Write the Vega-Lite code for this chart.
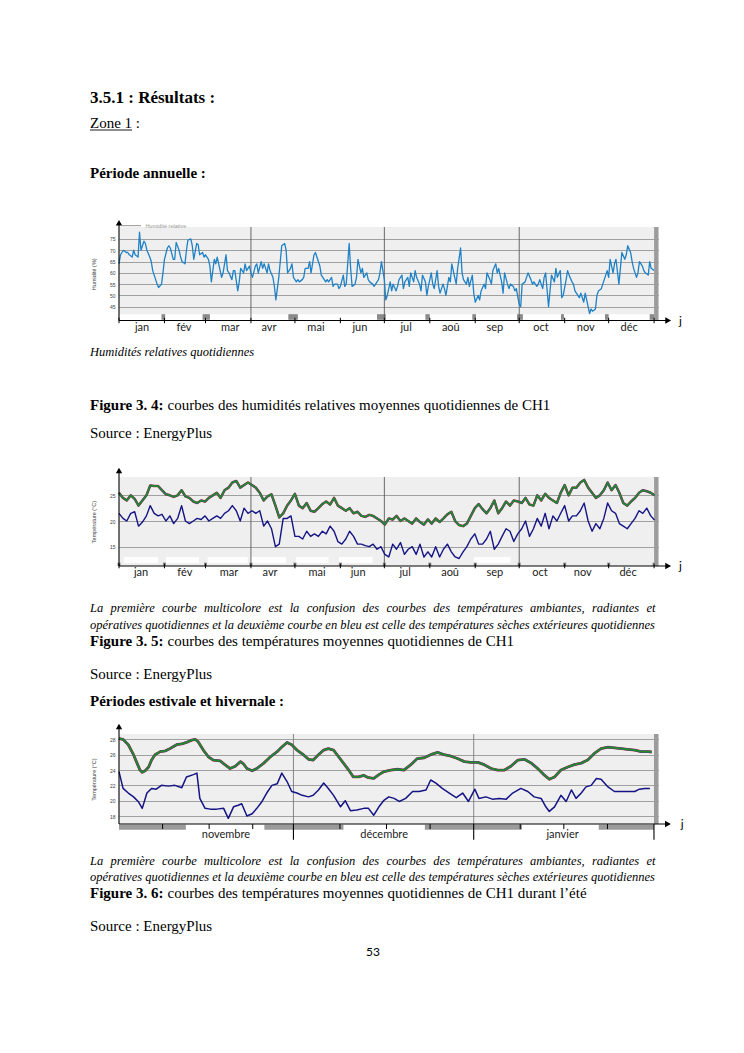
{
"$schema":"https://vega.github.io/schema/vega-lite/v6.json",
"background":"white",
"padding":{"left":89,"top":86,"right":5,"bottom":5},
"bounds":"flush",
"spacing":0,
"config":{"view":{"stroke":null},"text":{"font":"Liberation Serif","fontSize":15,"align":"left","baseline":"middle","color":"#000000"},"line":{"strokeJoin":"round"}},
"datasets":{
"hr":[{"d":0,"h":64},{"d":1,"h":68},{"d":2,"h":69},{"d":3,"h":70},{"d":5,"h":69},{"d":6,"h":69},{"d":7,"h":68},{"d":9,"h":67},{"d":10,"h":70},{"d":11,"h":68},{"d":13,"h":67},{"d":14,"h":78},{"d":15,"h":70},{"d":17,"h":74},{"d":18,"h":73},{"d":19,"h":70},{"d":21,"h":67},{"d":22,"h":65},{"d":23,"h":61},{"d":25,"h":57},{"d":26,"h":55},{"d":27,"h":53.5},{"d":29,"h":55},{"d":30,"h":60},{"d":31,"h":66},{"d":33,"h":71},{"d":34,"h":72},{"d":35,"h":71},{"d":37,"h":66},{"d":38,"h":66},{"d":39,"h":73.5},{"d":41,"h":70},{"d":42,"h":67},{"d":43,"h":65},{"d":45,"h":64},{"d":46,"h":70},{"d":47,"h":74.5},{"d":49,"h":75},{"d":50,"h":72},{"d":51,"h":66},{"d":53,"h":73},{"d":54,"h":72.5},{"d":55,"h":68},{"d":57,"h":69},{"d":58,"h":67},{"d":59,"h":68},{"d":61,"h":66},{"d":62,"h":63},{"d":63,"h":56},{"d":65,"h":66},{"d":66,"h":64},{"d":67,"h":67},{"d":69,"h":61},{"d":70,"h":58},{"d":71,"h":60},{"d":73,"h":68},{"d":74,"h":61},{"d":75,"h":60},{"d":77,"h":57},{"d":78,"h":61},{"d":79,"h":61},{"d":81,"h":52},{"d":82,"h":56},{"d":83,"h":62},{"d":85,"h":60},{"d":86,"h":64},{"d":87,"h":61},{"d":89,"h":63},{"d":90,"h":60},{"d":91,"h":58},{"d":93,"h":63},{"d":94,"h":64},{"d":95,"h":60},{"d":97,"h":65},{"d":98,"h":62},{"d":99,"h":64},{"d":101,"h":60},{"d":102,"h":64},{"d":103,"h":61},{"d":105,"h":58},{"d":106,"h":54},{"d":107,"h":48},{"d":109,"h":58},{"d":110,"h":65},{"d":111,"h":72},{"d":113,"h":73},{"d":114,"h":70},{"d":115,"h":60},{"d":117,"h":62},{"d":118,"h":64},{"d":119,"h":58},{"d":121,"h":56},{"d":122,"h":57},{"d":123,"h":56},{"d":125,"h":57},{"d":126,"h":58},{"d":127,"h":62},{"d":129,"h":62},{"d":130,"h":65},{"d":131,"h":60},{"d":133,"h":68},{"d":134,"h":69},{"d":135,"h":67},{"d":137,"h":63},{"d":138,"h":59},{"d":139,"h":58},{"d":141,"h":56},{"d":142,"h":57},{"d":143,"h":56},{"d":145,"h":58},{"d":146,"h":54},{"d":147,"h":55},{"d":149,"h":55},{"d":150,"h":53},{"d":151,"h":54},{"d":153,"h":59},{"d":154,"h":54},{"d":155,"h":55},{"d":157,"h":73},{"d":158,"h":62},{"d":159,"h":54},{"d":161,"h":55},{"d":162,"h":58},{"d":163,"h":66},{"d":165,"h":60},{"d":166,"h":62},{"d":167,"h":58},{"d":169,"h":60},{"d":170,"h":57},{"d":171,"h":56},{"d":173,"h":55},{"d":174,"h":54},{"d":175,"h":55},{"d":177,"h":57},{"d":178,"h":60},{"d":179,"h":65},{"d":181,"h":57},{"d":182,"h":48},{"d":183,"h":50},{"d":185,"h":56},{"d":186,"h":52},{"d":187,"h":55},{"d":189,"h":52},{"d":190,"h":54},{"d":191,"h":57},{"d":193,"h":59},{"d":194,"h":53},{"d":195,"h":56},{"d":197,"h":58},{"d":198,"h":54},{"d":199,"h":60},{"d":201,"h":56},{"d":202,"h":61},{"d":203,"h":58},{"d":205,"h":55},{"d":206,"h":52},{"d":207,"h":59},{"d":209,"h":56},{"d":210,"h":50},{"d":211,"h":54},{"d":213,"h":60},{"d":214,"h":55},{"d":215,"h":53},{"d":217,"h":61},{"d":218,"h":54},{"d":219,"h":51},{"d":221,"h":55},{"d":222,"h":53},{"d":223,"h":50},{"d":225,"h":58},{"d":226,"h":56},{"d":227,"h":64},{"d":229,"h":58},{"d":230,"h":55},{"d":231,"h":62},{"d":233,"h":71},{"d":234,"h":60},{"d":235,"h":57},{"d":237,"h":55},{"d":238,"h":58},{"d":239,"h":54},{"d":241,"h":59},{"d":242,"h":51},{"d":243,"h":47},{"d":245,"h":50},{"d":246,"h":48},{"d":247,"h":52},{"d":249,"h":55},{"d":250,"h":53},{"d":251,"h":60},{"d":253,"h":57},{"d":254,"h":55},{"d":255,"h":61},{"d":257,"h":64},{"d":258,"h":60},{"d":259,"h":62},{"d":261,"h":56},{"d":262,"h":51},{"d":263,"h":60},{"d":265,"h":55},{"d":266,"h":53},{"d":267,"h":55},{"d":269,"h":54},{"d":270,"h":52},{"d":271,"h":53},{"d":273,"h":46},{"d":274,"h":45},{"d":275,"h":55},{"d":277,"h":56},{"d":278,"h":58},{"d":279,"h":60},{"d":281,"h":57},{"d":282,"h":55},{"d":283,"h":56},{"d":285,"h":54},{"d":286,"h":55},{"d":287,"h":57},{"d":289,"h":53},{"d":290,"h":58},{"d":291,"h":60},{"d":293,"h":45},{"d":294,"h":52},{"d":295,"h":59},{"d":297,"h":56},{"d":298,"h":62},{"d":299,"h":58},{"d":301,"h":61},{"d":302,"h":49},{"d":303,"h":50},{"d":305,"h":57},{"d":306,"h":61},{"d":307,"h":59},{"d":309,"h":56},{"d":310,"h":55},{"d":311,"h":52},{"d":313,"h":50},{"d":314,"h":49},{"d":315,"h":51},{"d":317,"h":47},{"d":318,"h":51},{"d":319,"h":48},{"d":321,"h":42},{"d":322,"h":44},{"d":323,"h":43},{"d":325,"h":44},{"d":326,"h":50},{"d":327,"h":52},{"d":329,"h":53},{"d":330,"h":55},{"d":331,"h":57},{"d":333,"h":61},{"d":334,"h":58},{"d":335,"h":66},{"d":337,"h":60},{"d":338,"h":64},{"d":339,"h":66},{"d":341,"h":55},{"d":342,"h":62},{"d":343,"h":69},{"d":345,"h":66},{"d":346,"h":68},{"d":347,"h":72},{"d":349,"h":69},{"d":350,"h":65},{"d":351,"h":62},{"d":353,"h":58},{"d":354,"h":60},{"d":355,"h":65},{"d":357,"h":63},{"d":358,"h":61},{"d":359,"h":60},{"d":361,"h":59},{"d":362,"h":65},{"d":363,"h":62},{"d":365,"h":61}],
"t2":[{"d":0,"t":25.5,"e":21.5},{"d":2.7,"t":24.5,"e":20.5},{"d":5.3,"t":24,"e":20},{"d":8,"t":25,"e":21.5},{"d":10.7,"t":24.3,"e":21.8},{"d":13.3,"t":23,"e":19},{"d":16,"t":24,"e":19.8},{"d":18.7,"t":25,"e":21},{"d":21.3,"t":26.9,"e":23},{"d":24,"t":26.8,"e":21.5},{"d":26.7,"t":26.8,"e":21},{"d":29.3,"t":26,"e":21.3},{"d":32,"t":25.2,"e":20},{"d":34.7,"t":25,"e":21},{"d":37.3,"t":24.7,"e":19.5},{"d":40,"t":25,"e":20.5},{"d":42.7,"t":26,"e":23},{"d":45.3,"t":24.8,"e":20},{"d":48,"t":24.5,"e":19.5},{"d":50.7,"t":23.8,"e":20},{"d":53.3,"t":23.5,"e":20.5},{"d":56,"t":24,"e":20.3},{"d":58.7,"t":23.8,"e":21},{"d":61.3,"t":24.5,"e":20},{"d":64,"t":25,"e":20.5},{"d":66.7,"t":25.5,"e":21},{"d":69.3,"t":24.5,"e":20.5},{"d":72,"t":26,"e":21.5},{"d":74.7,"t":26.5,"e":22},{"d":77.3,"t":27.5,"e":23},{"d":80,"t":27.8,"e":22},{"d":82.7,"t":26.5,"e":20},{"d":85.3,"t":27,"e":22.5},{"d":88,"t":27.5,"e":21.5},{"d":90.7,"t":27,"e":22},{"d":93.3,"t":26.5,"e":21.5},{"d":96,"t":25.5,"e":22},{"d":98.7,"t":24,"e":19},{"d":101.3,"t":24.8,"e":20},{"d":104,"t":25.2,"e":18.5},{"d":106.7,"t":23,"e":15},{"d":109.3,"t":20.7,"e":15.5},{"d":112,"t":21.5,"e":20.5},{"d":114.7,"t":23,"e":20.5},{"d":117.3,"t":24,"e":21},{"d":120,"t":25.3,"e":17},{"d":122.7,"t":23,"e":17},{"d":125.3,"t":22.5,"e":16.5},{"d":128,"t":23.5,"e":18},{"d":130.7,"t":22,"e":17},{"d":133.3,"t":21.8,"e":17.5},{"d":136,"t":22.5,"e":17},{"d":138.7,"t":23.3,"e":18},{"d":141.3,"t":23.8,"e":17.5},{"d":144,"t":23.2,"e":19},{"d":146.7,"t":24.5,"e":18},{"d":149.3,"t":23,"e":16},{"d":152,"t":22.5,"e":15.5},{"d":154.7,"t":22,"e":16.5},{"d":157.3,"t":22.5,"e":18},{"d":160,"t":21.5,"e":17},{"d":162.7,"t":21.8,"e":15.5},{"d":165.3,"t":21,"e":15.5},{"d":168,"t":20.8,"e":15.2},{"d":170.7,"t":21.2,"e":15},{"d":173.3,"t":21,"e":15.5},{"d":176,"t":20.5,"e":14.5},{"d":178.7,"t":20,"e":15},{"d":181.3,"t":19.3,"e":13.5},{"d":184,"t":20.5,"e":13},{"d":186.7,"t":20.3,"e":15.5},{"d":189.3,"t":21,"e":14.5},{"d":192,"t":20,"e":15.8},{"d":194.7,"t":20.5,"e":13.5},{"d":197.3,"t":20,"e":14.5},{"d":200,"t":19.5,"e":15},{"d":202.7,"t":20.5,"e":13.5},{"d":205.3,"t":19.8,"e":15.5},{"d":208,"t":19.3,"e":13},{"d":210.7,"t":20.3,"e":14},{"d":213.3,"t":19.5,"e":13},{"d":216,"t":20.5,"e":15},{"d":218.7,"t":19.8,"e":13},{"d":221.3,"t":20.5,"e":14.5},{"d":224,"t":21.3,"e":15.5},{"d":226.7,"t":21.8,"e":14},{"d":229.3,"t":20,"e":13},{"d":232,"t":19.2,"e":12.7},{"d":234.7,"t":19,"e":14},{"d":237.3,"t":19.5,"e":15},{"d":240,"t":21,"e":16.5},{"d":242.7,"t":22.5,"e":17.5},{"d":245.3,"t":23.3,"e":15.5},{"d":248,"t":22.3,"e":15.5},{"d":250.7,"t":21.5,"e":16.5},{"d":253.3,"t":22.5,"e":18},{"d":256,"t":24,"e":14.5},{"d":258.7,"t":21.5,"e":15.5},{"d":261.3,"t":22.5,"e":17},{"d":264,"t":23.8,"e":18.5},{"d":266.7,"t":23,"e":18},{"d":269.3,"t":24,"e":16},{"d":272,"t":23.8,"e":17.5},{"d":274.7,"t":23.5,"e":18.5},{"d":277.3,"t":24.5,"e":20},{"d":280,"t":23.2,"e":17},{"d":282.7,"t":23,"e":18.5},{"d":285.3,"t":25,"e":20.5},{"d":288,"t":24,"e":19},{"d":290.7,"t":25.3,"e":21.5},{"d":293.3,"t":24.5,"e":18.5},{"d":296,"t":24,"e":21},{"d":298.7,"t":23.5,"e":20},{"d":301.3,"t":25.5,"e":21.5},{"d":304,"t":27,"e":23},{"d":306.7,"t":25,"e":20},{"d":309.3,"t":26.5,"e":21},{"d":312,"t":26.5,"e":21},{"d":314.7,"t":27.5,"e":22},{"d":317.3,"t":28,"e":23.5},{"d":320,"t":26.5,"e":20},{"d":322.7,"t":25.5,"e":18},{"d":325.3,"t":24.5,"e":19.5},{"d":328,"t":25,"e":18.5},{"d":330.7,"t":26,"e":20.5},{"d":333.3,"t":27.5,"e":23.5},{"d":336,"t":26,"e":22},{"d":338.7,"t":27,"e":21.5},{"d":341.3,"t":25.5,"e":19.5},{"d":344,"t":23.5,"e":19},{"d":346.7,"t":23,"e":18.5},{"d":349.3,"t":23.8,"e":19.5},{"d":352,"t":24.5,"e":20.5},{"d":354.7,"t":25.5,"e":22},{"d":357.3,"t":26,"e":21.5},{"d":360,"t":25.8,"e":22.5},{"d":362.7,"t":25.5,"e":21},{"d":365.3,"t":25,"e":20.2}],
"t3i":[{"d":0,"t":28.1},{"d":0.7,"t":28},{"d":1.6,"t":27.3},{"d":2.5,"t":26},{"d":3.1,"t":24.9},{"d":3.6,"t":24},{"d":4,"t":23.7},{"d":4.5,"t":23.9},{"d":5.1,"t":24.4},{"d":5.6,"t":25.3},{"d":6.2,"t":26},{"d":7.1,"t":26.4},{"d":8,"t":26.5},{"d":8.8,"t":26.8},{"d":9.9,"t":27.3},{"d":10.8,"t":27.4},{"d":11.6,"t":27.6},{"d":12.5,"t":27.9},{"d":13.1,"t":28},{"d":13.6,"t":27.7},{"d":14.5,"t":26.6},{"d":15.4,"t":25.7},{"d":16.2,"t":25.3},{"d":17.4,"t":25.2},{"d":18.2,"t":24.7},{"d":19.1,"t":24.2},{"d":20,"t":24.5},{"d":20.9,"t":25.1},{"d":21.4,"t":24.8},{"d":22,"t":24.2},{"d":22.9,"t":23.9},{"d":23.7,"t":24.2},{"d":24.9,"t":24.9},{"d":26,"t":25.7},{"d":27.2,"t":26.4},{"d":28,"t":27},{"d":28.9,"t":27.6},{"d":29.7,"t":27.3},{"d":30.6,"t":26.6},{"d":31.7,"t":26},{"d":32.6,"t":25.4},{"d":33.4,"t":25.3},{"d":34.3,"t":26},{"d":35.2,"t":26.6},{"d":36,"t":26.8},{"d":36.9,"t":26.6},{"d":37.8,"t":25.7},{"d":38.6,"t":24.9},{"d":39.5,"t":24},{"d":40.3,"t":23.1},{"d":41.2,"t":23.1},{"d":42.1,"t":23.3},{"d":42.9,"t":23},{"d":43.8,"t":22.9},{"d":44.7,"t":23.4},{"d":45.6,"t":23.8},{"d":46.7,"t":24},{"d":47.9,"t":24.1},{"d":49,"t":24},{"d":50.2,"t":24.7},{"d":51.3,"t":25.5},{"d":52.5,"t":25.6},{"d":53.6,"t":26},{"d":54.8,"t":26.3},{"d":55.9,"t":26},{"d":57.1,"t":25.8},{"d":58.2,"t":25.5},{"d":59.4,"t":25.1},{"d":60.5,"t":25},{"d":61.7,"t":25},{"d":62.8,"t":24.7},{"d":64,"t":24.2},{"d":65.1,"t":24},{"d":66.3,"t":24},{"d":67.4,"t":24.5},{"d":68.6,"t":25.3},{"d":69.7,"t":25.4},{"d":70.9,"t":24.9},{"d":72,"t":24.2},{"d":73.2,"t":23.3},{"d":74,"t":22.8},{"d":74.9,"t":23.1},{"d":76,"t":24},{"d":77.2,"t":24.4},{"d":78.3,"t":24.7},{"d":79.5,"t":24.9},{"d":80.6,"t":25.3},{"d":81.8,"t":26.2},{"d":82.9,"t":26.8},{"d":84.1,"t":27},{"d":85.2,"t":26.9},{"d":86.4,"t":26.8},{"d":87.5,"t":26.7},{"d":88.7,"t":26.6},{"d":89.8,"t":26.4},{"d":91,"t":26.4},{"d":91.6,"t":26.35}],
"t3o":[{"d":0,"e":23.8},{"d":0.7,"e":21.6},{"d":1.6,"e":21},{"d":2.5,"e":20.5},{"d":3.3,"e":19.9},{"d":4,"e":19},{"d":4.8,"e":21},{"d":5.6,"e":21.6},{"d":6.4,"e":21.5},{"d":7.3,"e":22},{"d":8.5,"e":21.9},{"d":9.6,"e":22},{"d":10.8,"e":21.7},{"d":11.6,"e":23.1},{"d":12.8,"e":23.4},{"d":13.4,"e":23.6},{"d":13.9,"e":20.3},{"d":14.8,"e":19},{"d":15.7,"e":18.9},{"d":16.8,"e":18.9},{"d":18,"e":19},{"d":18.8,"e":17.7},{"d":19.7,"e":19.2},{"d":20.5,"e":19.4},{"d":21.1,"e":19.6},{"d":22,"e":18},{"d":22.9,"e":18.3},{"d":23.7,"e":19},{"d":24.6,"e":19.9},{"d":25.4,"e":21},{"d":26.3,"e":22},{"d":27.2,"e":22.2},{"d":28,"e":23.6},{"d":28.9,"e":22.5},{"d":29.7,"e":21.2},{"d":30.6,"e":21},{"d":31.5,"e":20.7},{"d":32.6,"e":20.5},{"d":33.4,"e":20.7},{"d":34.3,"e":21.4},{"d":35.2,"e":22.3},{"d":36,"e":21.6},{"d":36.9,"e":20.7},{"d":38.1,"e":19.2},{"d":38.9,"e":20},{"d":39.8,"e":18.7},{"d":40.9,"e":18.8},{"d":42.1,"e":19},{"d":42.9,"e":19},{"d":43.8,"e":18.1},{"d":44.7,"e":19.2},{"d":45.5,"e":20},{"d":46.4,"e":20.5},{"d":47.3,"e":20.3},{"d":48.2,"e":19.9},{"d":49.3,"e":20.3},{"d":50.5,"e":21.2},{"d":51.6,"e":21.2},{"d":52.8,"e":21.4},{"d":53.6,"e":22.7},{"d":54.5,"e":22.3},{"d":55.6,"e":21.6},{"d":56.8,"e":21},{"d":58,"e":20.4},{"d":59.1,"e":21},{"d":60.1,"e":19.9},{"d":61.2,"e":21.5},{"d":61.9,"e":20.3},{"d":63.1,"e":20.5},{"d":64.2,"e":20.2},{"d":65.4,"e":20.3},{"d":66.6,"e":20.2},{"d":67.7,"e":21},{"d":69.1,"e":21.6},{"d":70.3,"e":21.2},{"d":71.4,"e":20.5},{"d":72.6,"e":20.3},{"d":73.4,"e":19.2},{"d":74,"e":18.6},{"d":74.9,"e":19.2},{"d":76,"e":20.7},{"d":76.9,"e":19.9},{"d":77.8,"e":21.4},{"d":78.6,"e":20.3},{"d":79.5,"e":21},{"d":80.3,"e":21.8},{"d":81.2,"e":22},{"d":82.1,"e":22.9},{"d":82.9,"e":22.8},{"d":84.1,"e":21.8},{"d":85.2,"e":21.2},{"d":86.4,"e":21.2},{"d":87.5,"e":21.2},{"d":88.7,"e":21.2},{"d":89.5,"e":21.5},{"d":90.4,"e":21.6},{"d":91.3,"e":21.6}],
"ms":[{"d":0},{"d":31},{"d":59},{"d":90},{"d":120},{"d":151},{"d":181},{"d":212},{"d":243},{"d":273},{"d":304},{"d":334},{"d":365}],
"q":[{"d":90},{"d":181},{"d":273}],
"blk1":[{"a":29,"b":31.5},{"a":57,"b":62},{"a":115.5,"b":122},{"a":176,"b":182},{"a":209,"b":212},{"a":241,"b":243.5},{"a":271.5,"b":275.5},{"a":301.5,"b":303.5},{"a":331.5,"b":334},{"a":362,"b":365}],
"wb2":[{"a":3.5,"b":26.5},{"a":32,"b":54.6},{"a":60.5,"b":87.8},{"a":90,"b":114},{"a":120.7,"b":143},{"a":150,"b":173},{"a":242,"b":267}],
"gb3":[{"a":0,"b":11.5},{"a":25,"b":38.6},{"a":52.6,"b":69.3},{"a":82.5,"b":92}],
"wk3":[{"d":7.5},{"d":15.5},{"d":23},{"d":38},{"d":46},{"d":53.5},{"d":69},{"d":76.5},{"d":84}],
"sep3":[{"d":30},{"d":61}],
"sep3b":[{"d":30},{"d":61},{"d":92}]
},
"vconcat":[
{"height":24,"width":2,"data":{"values":[{"t":"3.5.1 : Résultats :"}]},"mark":{"type":"text","fontWeight":"bold","fontSize":17,"dx":-30},"encoding":{"text":{"field":"t"}}},
{"height":25,"width":100,"layer":[
  {"data":{"values":[{"t":"Zone 1 :"}]},"mark":{"type":"text"},"encoding":{"x":{"datum":-29,"type":"quantitative","scale":{"domain":[0,100]},"axis":null},"text":{"field":"t"}}},
  {"data":{"values":[{}]},"mark":{"type":"rule","color":"#000000","strokeWidth":0.9},"encoding":{"x":{"datum":-29,"type":"quantitative","scale":{"domain":[0,100]},"axis":null},"x2":{"datum":13},"y":{"datum":5,"type":"quantitative","scale":{"domain":[0,25]},"axis":null}}}
]},
{"height":75.6,"width":2,"data":{"values":[{"t":"Période annuelle :"}]},"mark":{"type":"text","fontWeight":"bold","dx":-30},"encoding":{"text":{"field":"t"}}},
{"height":15.4,"width":2,"data":{"values":[{"t":""}]},"mark":"text","encoding":{"text":{"field":"t"}}},
{"width":539.5,"height":93.5,"view":{"fill":"#efefef","stroke":null},
 "layer":[
  {"data":{"values":[{}]},"mark":{"type":"rect","color":"#ffffff"},"encoding":{"x":{"datum":0,"type":"quantitative","scale":{"domain":[0,368]}},"x2":{"datum":365},"y":{"datum":38.9,"type":"quantitative","scale":{"domain":[38.9,80.3]}},"y2":{"datum":41.7}}},
  {"data":{"name":"blk1"},"mark":{"type":"rect","color":"#8a8a8a"},"encoding":{"x":{"field":"a","type":"quantitative","scale":{"domain":[0,368]}},"x2":{"field":"b"},"y":{"datum":39.2,"type":"quantitative","scale":{"domain":[38.9,80.3]}},"y2":{"datum":41.7}}},
  {"data":{"name":"q"},"mark":{"type":"rule","color":"#5a5a5a","strokeWidth":0.9},"encoding":{"x":{"field":"d","type":"quantitative","scale":{"domain":[0,368]}},"y":{"datum":38.9,"type":"quantitative","scale":{"domain":[38.9,80.3]}},"y2":{"datum":80.3}}},
  {"data":{"values":[{}]},"mark":{"type":"rect","color":"#9c9c9c"},"encoding":{"x":{"datum":365,"type":"quantitative","scale":{"domain":[0,368]}},"x2":{"datum":368},"y":{"datum":38.9,"type":"quantitative","scale":{"domain":[38.9,80.3]}},"y2":{"datum":80.3}}},
  {"data":{"name":"hr"},"mark":{"type":"line","color":"#1f82c6","strokeWidth":1.3},"encoding":{
    "x":{"field":"d","type":"quantitative","scale":{"domain":[0,368]},"axis":{"values":[15.4,44,75.5,102,134,164,195.5,226,256,287.5,318,347.6],"tickCount":30,"labelExpr":"['jan','fév','mar','avr','mai','jun','jul','aoû','sep','oct','nov','déc'][floor(datum.value/30.44)]","domain":false,"ticks":false,"grid":false,"labelFont":"Lato","labelFontSize":11,"labelColor":"#222222","labelPadding":1,"labelOverlap":false,"labelFlush":false,"title":null}},
    "y":{"field":"h","type":"quantitative","scale":{"domain":[38.9,80.3]},"axis":{"values":[45,50,55,60,65,70,75],"tickCount":30,"format":"d","domain":false,"ticks":false,"grid":true,"gridColor":"#8c8c8c","gridWidth":0.8,"labelFont":"Liberation Sans","labelFontSize":5,"labelColor":"#444444","labelPadding":4,"labelOverlap":false,"title":"Humidité (%)","titleFont":"Liberation Sans","titleFontSize":5.5,"titleFontWeight":"normal","titleColor":"#444444","titlePadding":13}}}},
  {"data":{"values":[{}]},"mark":{"type":"rule","color":"#000000","strokeWidth":1.1},"encoding":{"x":{"datum":0,"type":"quantitative","scale":{"domain":[0,368]}},"x2":{"datum":374.6},"y":{"datum":38.9,"type":"quantitative","scale":{"domain":[38.9,80.3]}}}},
  {"data":{"values":[{}]},"mark":{"type":"rule","color":"#000000","strokeWidth":1.1},"encoding":{"x":{"datum":0,"type":"quantitative","scale":{"domain":[0,368]}},"y":{"datum":38.9,"type":"quantitative","scale":{"domain":[38.9,80.3]}},"y2":{"datum":82.2}}},
  {"data":{"values":[{}]},"mark":{"type":"point","shape":"triangle-right","filled":true,"color":"#000000","size":45,"opacity":1},"encoding":{"x":{"datum":374.6,"type":"quantitative","scale":{"domain":[0,368]}},"y":{"datum":38.9,"type":"quantitative","scale":{"domain":[38.9,80.3]}}}},
  {"data":{"values":[{}]},"mark":{"type":"point","shape":"triangle-up","filled":true,"color":"#000000","size":40,"opacity":1},"encoding":{"x":{"datum":0,"type":"quantitative","scale":{"domain":[0,368]}},"y":{"datum":82.2,"type":"quantitative","scale":{"domain":[38.9,80.3]}}}},
  {"data":{"name":"ms"},"mark":{"type":"rule","color":"#000000","strokeWidth":1},"encoding":{"x":{"field":"d","type":"quantitative","scale":{"domain":[0,368]}},"y":{"datum":37.7,"type":"quantitative","scale":{"domain":[38.9,80.3]}},"y2":{"datum":40.1}}},
  {"data":{"values":[{"t":"j"}]},"mark":{"type":"text","font":"Lato","fontSize":12},"encoding":{"x":{"datum":382,"type":"quantitative","scale":{"domain":[0,368]}},"y":{"datum":38.9,"type":"quantitative","scale":{"domain":[38.9,80.3]}},"text":{"field":"t"}}},
  {"data":{"values":[{}]},"mark":{"type":"rule","color":"#666666","strokeWidth":0.7},"encoding":{"x":{"datum":2,"type":"quantitative","scale":{"domain":[0,368]}},"x2":{"datum":15},"y":{"datum":80.9,"type":"quantitative","scale":{"domain":[38.9,80.3]}}}},
  {"data":{"values":[{"t":"Humidité relative"}]},"mark":{"type":"text","font":"Liberation Sans","fontSize":5.5,"color":"#999999"},"encoding":{"x":{"datum":18,"type":"quantitative","scale":{"domain":[0,368]}},"y":{"datum":80.9,"type":"quantitative","scale":{"domain":[38.9,80.3]}},"text":{"field":"t"}}}
 ]},
{"height":61,"width":2,"data":{"values":[{"t":"Humidités relatives quotidiennes"}]},"mark":{"type":"text","fontStyle":"italic","fontSize":12.5,"dx":-30},"encoding":{"text":{"field":"t"}}},
{"height":45,"width":2,"data":{"values":[{"a":"Figure 3. 4:","b":"courbes des humidités relatives moyennes quotidiennes de CH1"}]},"layer":[{"mark":{"type":"text","fontWeight":"bold","dx":-30},"encoding":{"text":{"field":"a"}}},{"mark":{"type":"text","dx":47.5},"encoding":{"text":{"field":"b"}}}]},
{"height":11,"width":2,"data":{"values":[{"t":"Source : EnergyPlus"}]},"mark":{"type":"text","dx":-30},"encoding":{"text":{"field":"t"}}},
{"height":38.5,"width":2,"data":{"values":[{"t":""}]},"mark":"text","encoding":{"text":{"field":"t"}}},
{"width":539.5,"height":89,"view":{"fill":"#efefef","stroke":null},
 "layer":[
  {"data":{"name":"wb2"},"mark":{"type":"rect","color":"#ffffff"},"encoding":{"x":{"field":"a","type":"quantitative","scale":{"domain":[0,368]}},"x2":{"field":"b"},"y":{"datum":11.82,"type":"quantitative","scale":{"domain":[11.24,28.57]}},"y2":{"datum":12.99}}},
  {"data":{"name":"ms"},"mark":{"type":"rule","color":"#8a8a8a","strokeWidth":3},"encoding":{"x":{"field":"d","type":"quantitative","scale":{"domain":[0,368]}},"y":{"datum":11.24,"type":"quantitative","scale":{"domain":[11.24,28.57]}},"y2":{"datum":11.9}}},
  {"data":{"name":"q"},"mark":{"type":"rule","color":"#5a5a5a","strokeWidth":0.9},"encoding":{"x":{"field":"d","type":"quantitative","scale":{"domain":[0,368]}},"y":{"datum":11.24,"type":"quantitative","scale":{"domain":[11.24,28.57]}},"y2":{"datum":28.57}}},
  {"data":{"values":[{}]},"mark":{"type":"rect","color":"#9c9c9c"},"encoding":{"x":{"datum":365,"type":"quantitative","scale":{"domain":[0,368]}},"x2":{"datum":368},"y":{"datum":11.24,"type":"quantitative","scale":{"domain":[11.24,28.57]}},"y2":{"datum":28.57}}},
  {"data":{"name":"t2"},"mark":{"type":"line","color":"#d8341c","strokeWidth":2.5},"encoding":{
    "x":{"field":"d","type":"quantitative","scale":{"domain":[0,368]},"axis":{"values":[14.7,44.6,74.7,102.7,134.7,162.8,194.8,225.5,256,286.8,316,346.9],"tickCount":30,"labelExpr":"['jan','fév','mar','avr','mai','jun','jul','aoû','sep','oct','nov','déc'][floor(datum.value/30.44)]","domain":false,"ticks":false,"grid":false,"labelFont":"Lato","labelFontSize":11,"labelColor":"#222222","labelPadding":0,"labelOverlap":false,"labelFlush":false,"title":null}},
    "y":{"field":"t","type":"quantitative","scale":{"domain":[11.24,28.57]},"axis":{"values":[15,20,25],"tickCount":30,"format":"d","domain":false,"ticks":false,"grid":true,"gridColor":"#8c8c8c","gridWidth":0.8,"labelFont":"Liberation Sans","labelFontSize":5,"labelColor":"#444444","labelPadding":4,"labelOverlap":false,"title":"Température (°C)","titleFont":"Liberation Sans","titleFontSize":5.5,"titleFontWeight":"normal","titleColor":"#444444","titlePadding":13}}}},
  {"data":{"name":"t2"},"mark":{"type":"line","color":"#2a3cc0","strokeWidth":2},"encoding":{"x":{"field":"d","type":"quantitative","scale":{"domain":[0,368]}},"y":{"field":"t","type":"quantitative","scale":{"domain":[11.24,28.57]}}}},
  {"data":{"name":"t2"},"mark":{"type":"line","color":"#258a25","strokeWidth":1.6},"encoding":{"x":{"field":"d","type":"quantitative","scale":{"domain":[0,368]}},"y":{"field":"t","type":"quantitative","scale":{"domain":[11.24,28.57]}}}},
  {"data":{"name":"t2"},"mark":{"type":"line","color":"#141485","strokeWidth":1.4},"encoding":{"x":{"field":"d","type":"quantitative","scale":{"domain":[0,368]}},"y":{"field":"e","type":"quantitative","scale":{"domain":[11.24,28.57]}}}},
  {"data":{"values":[{}]},"mark":{"type":"rule","color":"#000000","strokeWidth":1.1},"encoding":{"x":{"datum":0,"type":"quantitative","scale":{"domain":[0,368]}},"x2":{"datum":374.6},"y":{"datum":11.24,"type":"quantitative","scale":{"domain":[11.24,28.57]}}}},
  {"data":{"values":[{}]},"mark":{"type":"rule","color":"#000000","strokeWidth":1.1},"encoding":{"x":{"datum":0,"type":"quantitative","scale":{"domain":[0,368]}},"y":{"datum":11.24,"type":"quantitative","scale":{"domain":[11.24,28.57]}},"y2":{"datum":29.84}}},
  {"data":{"values":[{}]},"mark":{"type":"point","shape":"triangle-right","filled":true,"color":"#000000","size":45,"opacity":1},"encoding":{"x":{"datum":374.6,"type":"quantitative","scale":{"domain":[0,368]}},"y":{"datum":11.24,"type":"quantitative","scale":{"domain":[11.24,28.57]}}}},
  {"data":{"values":[{}]},"mark":{"type":"point","shape":"triangle-up","filled":true,"color":"#000000","size":40,"opacity":1},"encoding":{"x":{"datum":0,"type":"quantitative","scale":{"domain":[0,368]}},"y":{"datum":29.84,"type":"quantitative","scale":{"domain":[11.24,28.57]}}}},
  {"data":{"name":"ms"},"mark":{"type":"rule","color":"#000000","strokeWidth":1},"encoding":{"x":{"field":"d","type":"quantitative","scale":{"domain":[0,368]}},"y":{"datum":10.8,"type":"quantitative","scale":{"domain":[11.24,28.57]}},"y2":{"datum":11.7}}},
  {"data":{"values":[{"t":"j"}]},"mark":{"type":"text","font":"Lato","fontSize":12},"encoding":{"x":{"datum":382,"type":"quantitative","scale":{"domain":[0,368]}},"y":{"datum":11.24,"type":"quantitative","scale":{"domain":[11.24,28.57]}},"text":{"field":"t"}}}
 ]},
{"height":33,"width":2,"data":{"values":[{"t":""}]},"mark":"text","encoding":{"text":{"field":"t"}}},
{"height":17,"width":2,"data":{"values":[{"t":"La \u2004première \u2004courbe \u2004multicolore \u2004est \u2004la \u2004confusion \u2004des \u2004courbes \u2004des \u2004températures \u2004ambiantes, \u2004radiantes \u2004et"}]},"mark":{"type":"text","fontStyle":"italic","fontSize":12.5,"dx":-30},"encoding":{"text":{"field":"t"}}},
{"height":17,"width":2,"data":{"values":[{"t":"opératives quotidiennes et la deuxième courbe en bleu est celle des températures sèches extérieures quotidiennes"}]},"mark":{"type":"text","fontStyle":"italic","fontSize":12.5,"dx":-30},"encoding":{"text":{"field":"t"}}},
{"height":15,"width":2,"data":{"values":[{"a":"Figure 3. 5:","b":"courbes des températures moyennes quotidiennes de CH1"}]},"layer":[{"mark":{"type":"text","fontWeight":"bold","dx":-30},"encoding":{"text":{"field":"a"}}},{"mark":{"type":"text","dx":47.5},"encoding":{"text":{"field":"b"}}}]},
{"height":51,"width":2,"data":{"values":[{"t":"Source : EnergyPlus"}]},"mark":{"type":"text","dx":-30},"encoding":{"text":{"field":"t"}}},
{"height":3,"width":2,"data":{"values":[{"t":"Périodes estivale et hivernale :"}]},"mark":{"type":"text","fontWeight":"bold","dx":-30},"encoding":{"text":{"field":"t"}}},
{"height":32,"width":2,"data":{"values":[{"t":""}]},"mark":"text","encoding":{"text":{"field":"t"}}},
{"width":539.5,"height":90,"view":{"fill":"#efefef","stroke":null},
 "layer":[
  {"data":{"name":"gb3"},"mark":{"type":"rect","color":"#9a9a9a"},"encoding":{"x":{"field":"a","type":"quantitative","scale":{"domain":[0,92.78]}},"x2":{"field":"b"},"y":{"datum":16.2,"type":"quantitative","scale":{"domain":[16.96,28.7]}},"y2":{"datum":16.85}}},
  {"data":{"name":"sep3"},"mark":{"type":"rule","color":"#7a7a7a","strokeWidth":0.9},"encoding":{"x":{"field":"d","type":"quantitative","scale":{"domain":[0,92.78]}},"y":{"datum":16.96,"type":"quantitative","scale":{"domain":[16.96,28.7]}},"y2":{"datum":28.7}}},
  {"data":{"name":"sep3b"},"mark":{"type":"rule","color":"#000000","strokeWidth":1.1},"encoding":{"x":{"field":"d","type":"quantitative","scale":{"domain":[0,92.78]}},"y":{"datum":14.9,"type":"quantitative","scale":{"domain":[16.96,28.7]}},"y2":{"datum":16.96}}},
  {"data":{"values":[{}]},"mark":{"type":"rect","color":"#9c9c9c"},"encoding":{"x":{"datum":92,"type":"quantitative","scale":{"domain":[0,92.78]}},"x2":{"datum":92.78},"y":{"datum":16.96,"type":"quantitative","scale":{"domain":[16.96,28.7]}},"y2":{"datum":28.7}}},
  {"data":{"name":"t3i"},"mark":{"type":"line","color":"#d8341c","strokeWidth":2.8},"encoding":{
    "x":{"field":"d","type":"quantitative","scale":{"domain":[0,92.78]},"axis":{"values":[18.3,45.5,76.2],"tickCount":30,"labelExpr":"datum.value < 30 ? 'novembre' : datum.value < 61 ? 'décembre' : 'janvier'","domain":false,"ticks":false,"grid":false,"labelFont":"Lato","labelFontSize":11,"labelColor":"#222222","labelPadding":4,"labelOverlap":false,"labelFlush":false,"title":null}},
    "y":{"field":"t","type":"quantitative","scale":{"domain":[16.96,28.7]},"axis":{"values":[18,20,22,24,26,28],"tickCount":30,"format":"d","domain":false,"ticks":false,"grid":true,"gridColor":"#8c8c8c","gridWidth":0.8,"labelFont":"Liberation Sans","labelFontSize":5,"labelColor":"#444444","labelPadding":4,"labelOverlap":false,"title":"Température (°C)","titleFont":"Liberation Sans","titleFontSize":5.5,"titleFontWeight":"normal","titleColor":"#444444","titlePadding":13}}}},
  {"data":{"name":"t3i"},"mark":{"type":"line","color":"#2a3cc0","strokeWidth":2.3},"encoding":{"x":{"field":"d","type":"quantitative","scale":{"domain":[0,92.78]}},"y":{"field":"t","type":"quantitative","scale":{"domain":[16.96,28.7]}}}},
  {"data":{"name":"t3i"},"mark":{"type":"line","color":"#258a25","strokeWidth":1.8},"encoding":{"x":{"field":"d","type":"quantitative","scale":{"domain":[0,92.78]}},"y":{"field":"t","type":"quantitative","scale":{"domain":[16.96,28.7]}}}},
  {"data":{"name":"t3o"},"mark":{"type":"line","color":"#141485","strokeWidth":1.5},"encoding":{"x":{"field":"d","type":"quantitative","scale":{"domain":[0,92.78]}},"y":{"field":"e","type":"quantitative","scale":{"domain":[16.96,28.7]}}}},
  {"data":{"values":[{}]},"mark":{"type":"rule","color":"#000000","strokeWidth":1.1},"encoding":{"x":{"datum":0,"type":"quantitative","scale":{"domain":[0,92.78]}},"x2":{"datum":94.4},"y":{"datum":16.96,"type":"quantitative","scale":{"domain":[16.96,28.7]}}}},
  {"data":{"values":[{}]},"mark":{"type":"rule","color":"#000000","strokeWidth":1.1},"encoding":{"x":{"datum":0,"type":"quantitative","scale":{"domain":[0,92.78]}},"y":{"datum":16.96,"type":"quantitative","scale":{"domain":[16.96,28.7]}},"y2":{"datum":29.68}}},
  {"data":{"values":[{}]},"mark":{"type":"point","shape":"triangle-right","filled":true,"color":"#000000","size":45,"opacity":1},"encoding":{"x":{"datum":94.4,"type":"quantitative","scale":{"domain":[0,92.78]}},"y":{"datum":16.96,"type":"quantitative","scale":{"domain":[16.96,28.7]}}}},
  {"data":{"values":[{}]},"mark":{"type":"point","shape":"triangle-up","filled":true,"color":"#000000","size":40,"opacity":1},"encoding":{"x":{"datum":0,"type":"quantitative","scale":{"domain":[0,92.78]}},"y":{"datum":29.68,"type":"quantitative","scale":{"domain":[16.96,28.7]}}}},
  {"data":{"name":"wk3"},"mark":{"type":"rule","color":"#000000","strokeWidth":1},"encoding":{"x":{"field":"d","type":"quantitative","scale":{"domain":[0,92.78]}},"y":{"datum":16.3,"type":"quantitative","scale":{"domain":[16.96,28.7]}},"y2":{"datum":16.96}}},
  {"data":{"values":[{"t":"j"}]},"mark":{"type":"text","font":"Lato","fontSize":12},"encoding":{"x":{"datum":96.6,"type":"quantitative","scale":{"domain":[0,92.78]}},"y":{"datum":16.96,"type":"quantitative","scale":{"domain":[16.96,28.7]}},"text":{"field":"t"}}}
 ]},
{"height":27.5,"width":2,"data":{"values":[{"t":""}]},"mark":"text","encoding":{"text":{"field":"t"}}},
{"height":18,"width":2,"data":{"values":[{"t":"La \u2004première \u2004courbe \u2004multicolore \u2004est \u2004la \u2004confusion \u2004des \u2004courbes \u2004des \u2004températures \u2004ambiantes, \u2004radiantes \u2004et"}]},"mark":{"type":"text","fontStyle":"italic","fontSize":12.5,"dx":-30},"encoding":{"text":{"field":"t"}}},
{"height":14,"width":2,"data":{"values":[{"t":"opératives quotidiennes et la deuxième courbe en bleu est celle des températures sèches extérieures quotidiennes"}]},"mark":{"type":"text","fontStyle":"italic","fontSize":12.5,"dx":-30},"encoding":{"text":{"field":"t"}}},
{"height":18,"width":2,"data":{"values":[{"a":"Figure 3. 6:","b":"courbes des températures moyennes quotidiennes de CH1 durant l’été"}]},"layer":[{"mark":{"type":"text","fontWeight":"bold","dx":-30},"encoding":{"text":{"field":"a"}}},{"mark":{"type":"text","dx":47.5},"encoding":{"text":{"field":"b"}}}]},
{"height":48,"width":2,"data":{"values":[{"t":"Source : EnergyPlus"}]},"mark":{"type":"text","dx":-30},"encoding":{"text":{"field":"t"}}},
{"height":4,"width":508,"data":{"values":[{"t":"53"}]},"mark":{"type":"text","font":"Lato","fontSize":12,"align":"center"},"encoding":{"text":{"field":"t"}}}
]
}
